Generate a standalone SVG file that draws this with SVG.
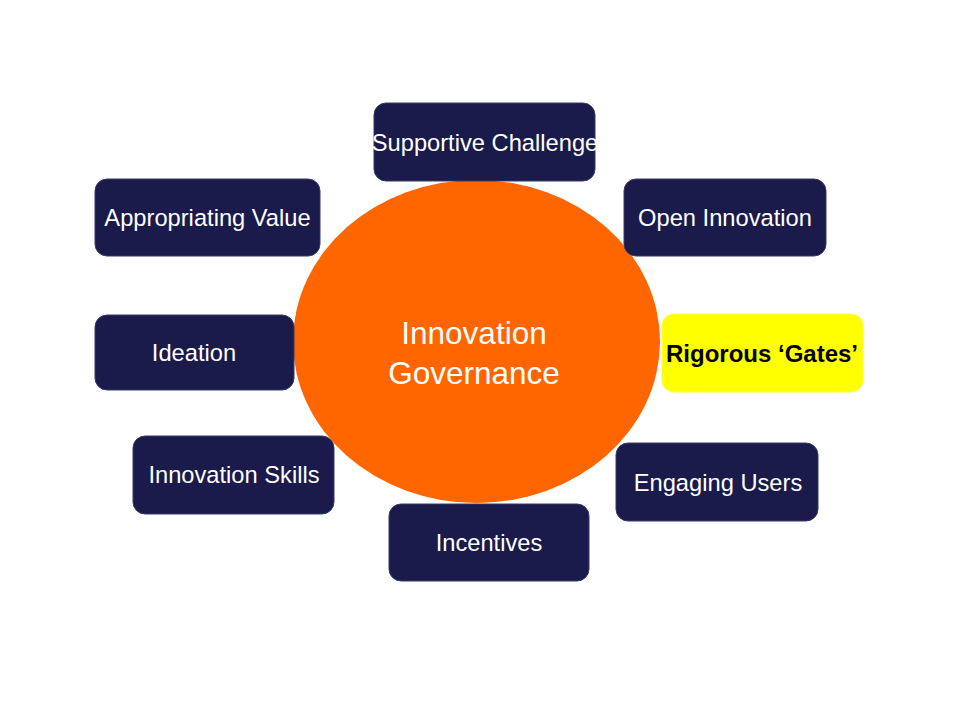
<svg xmlns="http://www.w3.org/2000/svg" width="960" height="720" viewBox="0 0 960 720">
<style>
.box{fill:#1a1a4b;stroke:#3a3a6a;stroke-width:1}
.lbl{font-family:"Liberation Sans",Arial,sans-serif;font-size:23.7px;fill:#ffffff;text-anchor:middle}
.hl{fill:#ffff00;stroke:#ffff33;stroke-width:1}
.hlt{font-family:"Liberation Sans",Arial,sans-serif;font-size:24px;font-weight:bold;fill:#000000;text-anchor:middle}
.ctr{font-family:"Liberation Sans",Arial,sans-serif;font-size:31.5px;fill:#ffffff;text-anchor:middle}
</style>
<rect width="960" height="720" fill="#ffffff"/>
<g id="connectors"></g>
<g id="center">
<ellipse cx="476.5" cy="341.5" rx="183.5" ry="161.5" fill="#ff6600"/>
<text class="ctr" x="474" y="344">Innovation</text>
<text class="ctr" x="474" y="384">Governance</text>
</g>
<g id="supportive-challenge">
<rect class="box" x="374" y="103" width="221" height="78" rx="12"/>
<text class="lbl" x="485" y="151">Supportive Challenge</text>
</g>
<g id="appropriating-value">
<rect class="box" x="95" y="179" width="225" height="77" rx="12"/>
<text class="lbl" x="207.5" y="226">Appropriating Value</text>
</g>
<g id="open-innovation">
<rect class="box" x="624" y="179" width="202" height="77" rx="12"/>
<text class="lbl" x="725" y="226">Open Innovation</text>
</g>
<g id="ideation">
<rect class="box" x="95" y="315" width="199" height="75" rx="12"/>
<text class="lbl" x="194" y="361">Ideation</text>
</g>
<g id="rigorous-gates">
<rect class="hl" x="662" y="314" width="201" height="78" rx="12"/>
<text class="hlt" x="762" y="362">Rigorous ‘Gates’</text>
</g>
<g id="innovation-skills">
<rect class="box" x="133" y="436" width="201" height="78" rx="12"/>
<text class="lbl" x="234" y="483">Innovation Skills</text>
</g>
<g id="engaging-users">
<rect class="box" x="616" y="443" width="202" height="78" rx="12"/>
<text class="lbl" x="718" y="491">Engaging Users</text>
</g>
<g id="incentives">
<rect class="box" x="389" y="504" width="200" height="77" rx="12"/>
<text class="lbl" x="489" y="551">Incentives</text>
</g>
</svg>
